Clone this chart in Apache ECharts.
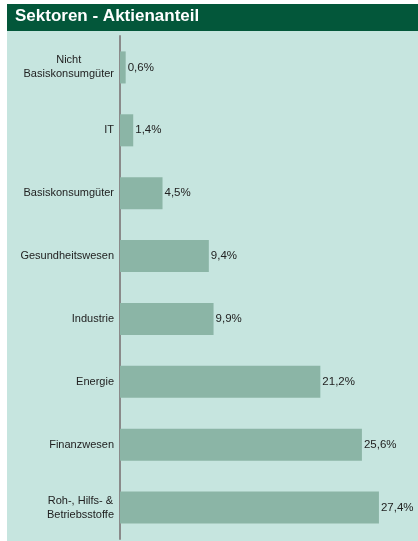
<!DOCTYPE html>
<html>
<head>
<meta charset="utf-8">
<script src="https://cdn.jsdelivr.net/npm/echarts@6/dist/echarts.min.js"></script>
<style>
  html, body { margin: 0; padding: 0; background: #fff; }
  #chart { width: 418px; height: 541px; }
</style>
</head>
<body>
<div id="chart"></div>
<script>
// Sektoren und Anteile (%)
const sectors = [
  'Nicht\nBasiskonsumgüter',
  'IT',
  'Basiskonsumgüter',
  'Gesundheitswesen',
  'Industrie',
  'Energie',
  'Finanzwesen',
  'Roh-, Hilfs- &\nBetriebsstoffe'
]
const shares = [0.6, 1.4, 4.5, 9.4, 9.9, 21.2, 25.6, 27.4]

const chart = echarts.init(document.getElementById('chart'))

chart.setOption({
  animation: false,
  textStyle: { fontFamily: 'Liberation Sans, Arial, sans-serif' },
  graphic: [
    // Hintergrund
    { type: 'rect', z: -10, shape: { x: 7, y: 31, width: 411, height: 510 }, style: { fill: '#c6e5df' } },
    // Kopfzeile
    { type: 'rect', z: -10, shape: { x: 7, y: 4, width: 411, height: 27 }, style: { fill: '#03573a' } },
    {
      type: 'text', left: 15, top: 8,
      style: { text: 'Sektoren - Aktienanteil', fill: '#fff', font: 'bold 17px Liberation Sans, Arial, sans-serif' }
    }
  ],
  grid: { left: 120, top: 36, width: 283.5, height: 503 },
  xAxis: {
    type: 'value',
    min: 0,
    max: 30,
    show: false
  },
  yAxis: {
    type: 'category',
    inverse: true,
    data: sectors,
    axisLine: { lineStyle: { color: '#8a8a8a', width: 2 } },
    axisTick: { show: false },
    axisLabel: {
      color: '#222',
      fontSize: 11,
      margin: 6,
      align: 'right',
      formatter: v => v.split('\n').map(s => '{c|' + s + '}').join('\n'),
      rich: { c: { align: 'center', fontSize: 11, lineHeight: 14, color: '#222' } }
    }
  },
  series: [{
    type: 'bar',
    data: shares,
    barCategoryGap: '49%',
    itemStyle: { color: '#8bb5a6' },
    label: {
      show: true,
      position: 'right',
      distance: 2,
      color: '#222',
      fontSize: 11.5,
      formatter: p => p.value.toFixed(1).replace('.', ',') + '%'
    }
  }]
})
</script>
</body>
</html>
